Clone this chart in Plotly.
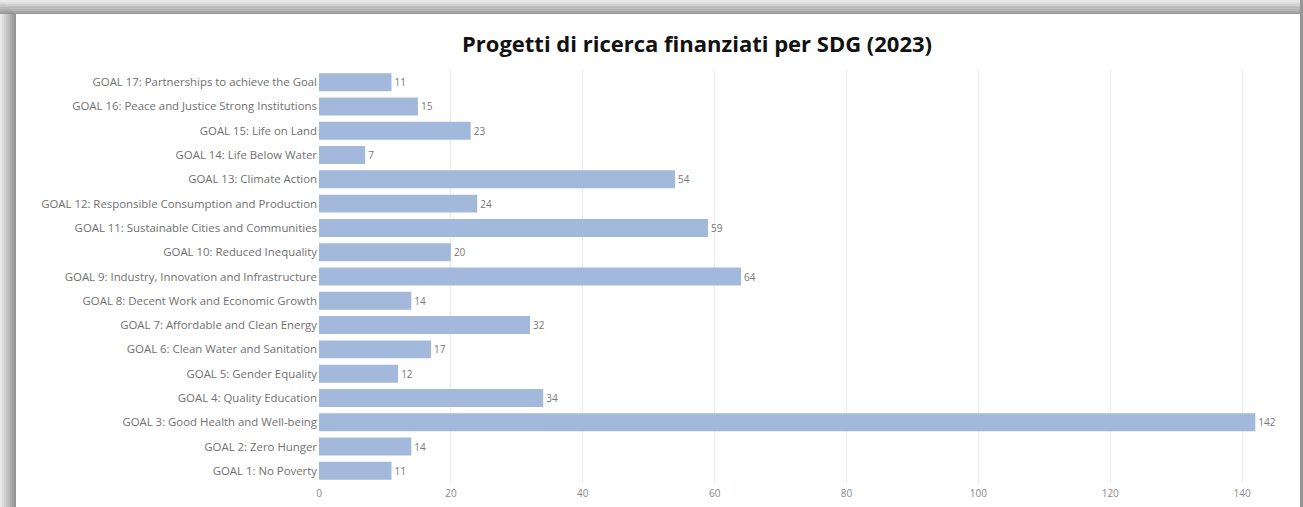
import plotly.graph_objects as go

# SDG categories (bottom to top) and number of funded projects
goals = [
    "GOAL 1: No Poverty",
    "GOAL 2: Zero Hunger",
    "GOAL 3: Good Health and Well-being",
    "GOAL 4: Quality Education",
    "GOAL 5: Gender Equality",
    "GOAL 6: Clean Water and Sanitation",
    "GOAL 7: Affordable and Clean Energy",
    "GOAL 8: Decent Work and Economic Growth",
    "GOAL 9: Industry, Innovation and Infrastructure",
    "GOAL 10: Reduced Inequality",
    "GOAL 11: Sustainable Cities and Communities",
    "GOAL 12: Responsible Consumption and Production",
    "GOAL 13: Climate Action",
    "GOAL 14: Life Below Water",
    "GOAL 15: Life on Land",
    "GOAL 16: Peace and Justice Strong Institutions",
    "GOAL 17: Partnerships to achieve the Goal",
]
projects = [11, 14, 142, 34, 12, 17, 32, 14, 64, 20, 59, 24, 54, 7, 23, 15, 11]
x_ticks = [0, 20, 40, 60, 80, 100, 120, 140]

W, H = 1303, 507
ML, MR, MT, MB = 319, 18, 70, 24
PW, PH = W - ML - MR, H - MT - MB


def px_to_paper_x(px):
    return (px - ML) / PW


def px_to_paper_y(py):
    return 1 - (py - MT) / PH


fig = go.Figure(
    go.Bar(
        x=projects,
        y=goals,
        orientation="h",
        marker=dict(color="#a3b9dc", line=dict(width=0)),
        text=projects,
        textposition="outside",
        cliponaxis=False,
        textfont=dict(family="Open Sans", size=10, color="#777777"),
        width=0.74,
        hoverinfo="x+y",
    )
)

# window-style frame: grey gradient bands at top and left, thin line on the right
shapes = []
band_steps = 8
for i in range(band_steps):
    t = i / (band_steps - 1)
    g = int(232 - t * (232 - 150))
    col = f"rgb({g},{g},{g})"
    # top band
    shapes.append(dict(
        type="rect", xref="paper", yref="paper", layer="above",
        x0=px_to_paper_x(0), x1=px_to_paper_x(1300),
        y0=px_to_paper_y(i * 14 / band_steps), y1=px_to_paper_y((i + 1) * 14 / band_steps),
        fillcolor=col, line=dict(width=0),
    ))
    # left band
    shapes.append(dict(
        type="rect", xref="paper", yref="paper", layer="above",
        x0=px_to_paper_x(i * 16 / band_steps), x1=px_to_paper_x((i + 1) * 16 / band_steps),
        y0=px_to_paper_y(14 * t), y1=px_to_paper_y(H),
        fillcolor=col, line=dict(width=0),
    ))
shapes.append(dict(
    type="rect", xref="paper", yref="paper", layer="above",
    x0=px_to_paper_x(1300), x1=px_to_paper_x(1303),
    y0=px_to_paper_y(0), y1=px_to_paper_y(H),
    fillcolor="rgb(150,150,150)", line=dict(width=0),
))

fig.update_layout(
    width=W,
    height=H,
    margin=dict(l=ML, r=MR, t=MT, b=MB, pad=0, autoexpand=False),
    paper_bgcolor="white",
    plot_bgcolor="white",
    showlegend=False,
    title=dict(
        text="<b>Progetti di ricerca finanziati per SDG (2023)</b>",
        x=697 / W,
        xanchor="center",
        y=1 - 44 / H,
        yanchor="middle",
        font=dict(family="Open Sans", size=22, color="#111111"),
    ),
    xaxis=dict(
        range=[0, 146.5],
        tickvals=x_ticks,
        showgrid=True,
        gridcolor="#ececec",
        gridwidth=1,
        zeroline=False,
        showline=False,
        ticks="",
        ticklabelstandoff=3,
        automargin=False,
        tickfont=dict(family="Open Sans", size=10, color="#888888"),
        fixedrange=True,
    ),
    yaxis=dict(
        type="category",
        categoryorder="array",
        categoryarray=goals,
        showgrid=False,
        zeroline=False,
        showline=False,
        ticks="",
        ticklabelstandoff=1,
        automargin=False,
        tickfont=dict(family="Open Sans", size=11.4, color="#707070"),
        range=[-0.5, 16.5],
        fixedrange=True,
    ),
    shapes=shapes,
)

fig.write_html("out.html")
